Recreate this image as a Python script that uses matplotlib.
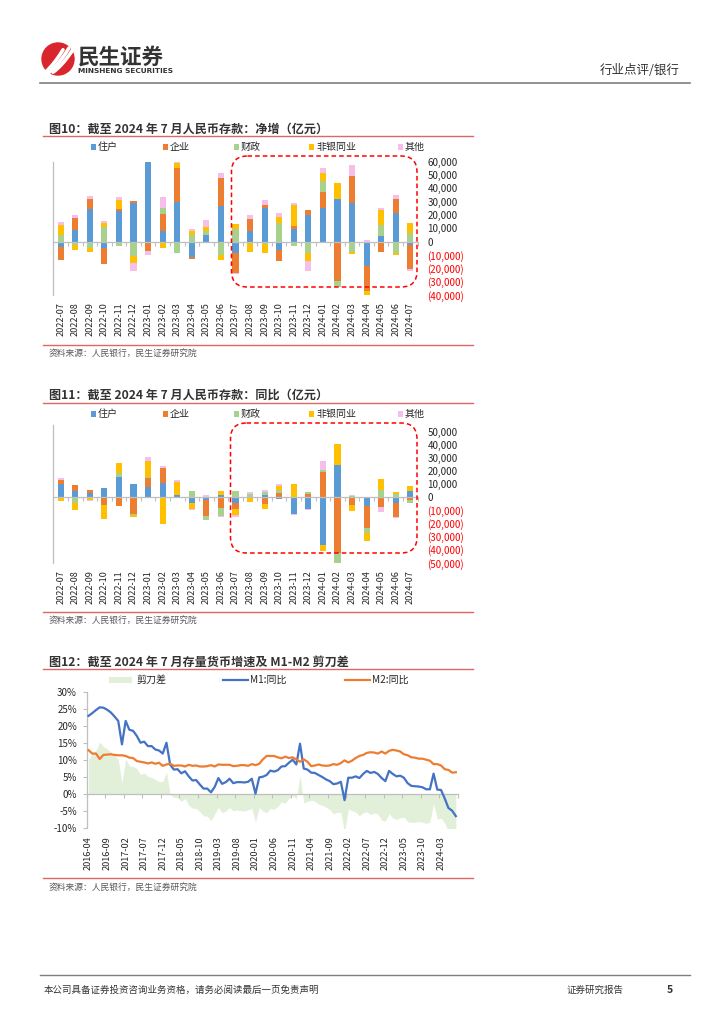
import numpy as np
import pandas as pd
import matplotlib
matplotlib.use('Agg')
import matplotlib.pyplot as plt
from matplotlib.patches import FancyBboxPatch, Rectangle, Circle

plt.rcParams['font.family'] = ['Noto Sans CJK SC', 'DejaVu Sans']
plt.rcParams['axes.unicode_minus'] = False

# ---------------- data ----------------
months = ['2022-07', '2022-08', '2022-09', '2022-10', '2022-11', '2022-12',
          '2023-01', '2023-02', '2023-03', '2023-04', '2023-05', '2023-06',
          '2023-07', '2023-08', '2023-09', '2023-10', '2023-11', '2023-12',
          '2024-01', '2024-02', '2024-03', '2024-04', '2024-05', '2024-06',
          '2024-07']
series_names = ['住户', '企业', '财政', '非银同业', '其他']
series_colors = ['#5B9BD5', '#ED7D31', '#A9D18E', '#FFC000', '#F6BEEA']

# 图10 净增（亿元）
net_household = [-3750, 8500, 24250, -5000, 23000, 29250, 60250, 8000, 29500, -11500, 5250, 26750,
                 -8250, 8000, 25500, -6250, 9250, 20000, 25500, 32250, 28750, -18500, 4500, 21750, -2750]
net_corporate = [-10000, 9500, 7500, -11750, 1250, 1000, -7250, 13000, 26000, -1500, -1250, 20750,
                 -15000, 8750, 1750, -8500, 2250, 3500, 11500, -29750, 20500, -18500, -7750, 10000, -18000]
net_fiscal = [5000, -2500, -5000, 11250, -3500, -11000, 0, 4250, -8250, 5000, 2500, -10250,
              9250, -500, -2000, 13750, -3000, -8750, 8500, -4000, -7750, 0, 7750, -8250, 6500]
net_nonbank = [7500, -4000, -2500, 2500, 7000, -5000, 0, -4750, 3250, 3000, 3250, -3500,
               4000, -7000, -6250, 5000, 16000, -5500, 5750, 11750, -1250, -3250, 11250, -1500, 7500]
net_other = [2000, 1750, 2500, 1500, 2000, -6250, -2750, 8250, 1500, 1250, 5250, 3750,
             -750, 3500, 4000, 3000, 1250, -7500, 4000, 0, 8500, 1500, 1500, 3000, -1000]

# 图11 同比（亿元）
yoy_household = [10350, 4800, 3300, 7000, 15200, 10100, 7800, 10600, 1800, -4500, -1800, 1800,
                 -4300, 0, 1500, -1000, -12600, -8600, -36100, 24200, 0, -6300, 0, -4500, 4800]
yoy_corporate = [2500, 4300, 2500, -5800, -7000, -12600, 7000, 11900, 0, 0, -12100, -8000,
                 -4800, -800, -5300, 3500, 0, 2800, 19000, -42700, -5800, -16700, -7100, -10600, -1800]
yoy_fiscal = [-500, -4000, 0, 0, 3300, -800, 500, 0, 0, 4800, -3300, -6500,
              5000, 2500, 2500, 2300, 0, 1500, 1500, -7300, 1300, -4000, 5800, 2500, -2800]
yoy_nonbank = [-2000, -5500, -2000, -10400, 7600, -1500, 12600, -20000, 9800, -4500, 0, 2800,
               -4000, -2500, -3500, 3000, 10400, 0, -4500, 16700, -4300, -6600, 8100, 1800, 3800]
yoy_other = [1500, 0, -500, 0, 0, 0, 3000, 1000, 1300, -1000, 1500, -800,
             -2000, 1500, 1800, 1000, -800, -1300, 7100, 0, 800, 0, -4000, -800, 0]

# 图12 M1 / M2 同比（%），2016-04 ~ 2024-07
money_months = list(pd.period_range('2016-04', '2024-07', freq='M').strftime('%Y-%m'))
m1_yoy = [22.9, 23.7, 24.6, 25.4, 25.3, 24.7, 23.9, 22.7, 21.4,
          14.5, 21.4, 18.8, 18.5, 17.0, 15.0, 15.3, 14.0, 14.0, 13.0, 12.7, 11.8,
          15.0, 8.5, 7.1, 7.2, 6.0, 6.6, 5.1, 3.9, 4.0, 2.7, 1.5, 1.5,
          0.4, 2.0, 4.6, 2.9, 3.4, 4.4, 3.1, 3.4, 3.4, 3.3, 3.5, 4.4,
          0.0, 4.8, 5.0, 5.5, 6.8, 6.5, 6.9, 8.0, 8.1, 9.1, 10.0, 8.6,
          14.7, 7.4, 7.1, 6.2, 6.1, 5.5, 4.9, 4.2, 3.7, 2.8, 3.0, 3.5,
          -1.9, 4.7, 4.7, 5.1, 4.6, 5.8, 6.7, 6.1, 6.4, 5.8, 4.6, 3.7,
          6.7, 5.8, 5.1, 5.3, 4.7, 3.1, 2.3, 2.2, 2.1, 1.9, 1.3, 1.3,
          5.9, 1.2, 1.1, -1.4, -4.2, -5.0, -6.6]
m2_yoy = [12.8, 11.8, 11.8, 10.2, 11.4, 11.5, 11.6, 11.4, 11.3,
          11.3, 11.1, 10.6, 10.5, 9.6, 9.4, 9.2, 8.9, 9.2, 8.8, 9.1, 8.2,
          8.6, 8.8, 8.2, 8.3, 8.3, 8.0, 8.5, 8.2, 8.3, 8.0, 8.0, 8.1,
          8.4, 8.0, 8.6, 8.5, 8.5, 8.5, 8.1, 8.2, 8.4, 8.4, 8.2, 8.7,
          8.4, 8.8, 10.1, 11.1, 11.1, 11.1, 10.7, 10.4, 10.9, 10.5, 10.7, 10.1,
          9.4, 10.1, 9.4, 8.1, 8.3, 8.6, 8.3, 8.2, 8.3, 8.7, 8.5, 9.0,
          9.8, 9.2, 9.7, 10.5, 11.1, 11.4, 12.0, 12.2, 12.1, 11.8, 12.4, 11.8,
          12.6, 12.9, 12.7, 12.4, 11.6, 11.3, 10.7, 10.6, 10.3, 10.3, 10.0, 9.7,
          8.7, 8.7, 8.3, 7.2, 7.0, 6.2, 6.3]
scissors = list(np.array(m1_yoy) - np.array(m2_yoy))

# ---------------- figure ----------------
W, H = 724, 1024
fig = plt.figure(figsize=(W / 100, H / 100), dpi=100)
fig.patch.set_facecolor('white')

def ax_px(l, t, r, b, **kw):
    return fig.add_axes([l / W, 1 - b / H, (r - l) / W, (b - t) / H], **kw)

RED = '#E06666'
AXC = '#BFBFBF'
TXT = '#262626'

def stacked_chart(ax, series, ylim, yticks):
    x = np.arange(len(months))
    pos = np.zeros(len(x))
    neg = np.zeros(len(x))
    for vals, col in zip(series, series_colors):
        v = np.array(vals, dtype=float)
        bottom = np.where(v >= 0, pos, neg)
        ax.bar(x, v, bottom=bottom, width=0.42, color=col, linewidth=0, zorder=3)
        pos += np.where(v > 0, v, 0)
        neg += np.where(v < 0, v, 0)
    ax.set_xlim(-0.5, len(x) - 0.5)
    ax.set_ylim(*ylim)
    for s in ['top', 'right']:
        ax.spines[s].set_visible(False)
    ax.spines['left'].set_color(AXC)
    ax.spines['left'].set_linewidth(0.9)
    ax.spines['bottom'].set_position(('data', 0))
    ax.spines['bottom'].set_color(AXC)
    ax.spines['bottom'].set_linewidth(0.9)
    ax.spines['bottom'].set_zorder(4)
    ax.set_xticks(np.arange(-0.5, len(x), 1.0))
    ax.set_xticklabels([])
    ax.tick_params(axis='x', length=3, color=AXC, width=0.8, direction='out')
    for i, lab in enumerate(months):
        ax.annotate(lab, xy=(i, 0), xycoords=('data', 'axes fraction'),
                    xytext=(0, -5), textcoords='offset points', rotation=90,
                    ha='center', va='top', fontsize=6.6, color=TXT)
    ax.yaxis.tick_right()
    ax.set_yticks(yticks)
    labels = ['({:,})'.format(-t) if t < 0 else '{:,}'.format(t) for t in yticks]
    ax.set_yticklabels(labels)
    ax.tick_params(axis='y', length=0, pad=7, labelsize=7)
    for lbl, t in zip(ax.get_yticklabels(), yticks):
        lbl.set_color('#FF0000' if t < 0 else TXT)
        lbl.set_ha('left')
    ax.patch.set_alpha(0)

# chart 1
ax1 = ax_px(53.4, 161.7, 417.6, 295.0)
stacked_chart(ax1, [net_household, net_corporate, net_fiscal, net_nonbank, net_other],
              (-40000, 60000), list(range(-40000, 60001, 10000)))

# chart 2
ax2 = ax_px(53.4, 425.0, 417.6, 563.0)
stacked_chart(ax2, [yoy_household, yoy_corporate, yoy_fiscal, yoy_nonbank, yoy_other],
              (-50000, 55000), list(range(-50000, 50001, 10000)))

# chart 3
ax3 = ax_px(86.7, 691.7, 457.7, 827.7)
xm = np.arange(len(money_months))
ax3.fill_between(xm, 0, scissors, color='#E2F0D9', linewidth=0, zorder=1)
ax3.plot(xm, m1_yoy, color='#4472C4', lw=1.6, zorder=3)
ax3.plot(xm, m2_yoy, color='#ED7D31', lw=1.6, zorder=3)
ax3.set_xlim(-0.5, len(xm) - 0.5)
ax3.set_ylim(-10, 30)
for s in ['top', 'right']:
    ax3.spines[s].set_visible(False)
ax3.spines['left'].set_color(AXC)
ax3.spines['left'].set_linewidth(0.9)
ax3.spines['bottom'].set_position(('data', 0))
ax3.spines['bottom'].set_color(AXC)
ax3.spines['bottom'].set_linewidth(0.9)
tick_pos = list(np.arange(0, len(xm), 5) - 0.5) + [len(xm) - 0.5]
ax3.set_xticks(tick_pos)
ax3.set_xticklabels([])
ax3.tick_params(axis='x', length=3, color=AXC, width=0.8, direction='out')
for i in range(0, len(xm), 5):
    ax3.annotate(money_months[i], xy=(i, 0), xycoords=('data', 'axes fraction'),
                 xytext=(0, -6), textcoords='offset points', rotation=90,
                 ha='center', va='top', fontsize=6.6, color=TXT)
yt3 = list(range(-10, 31, 5))
ax3.set_yticks(yt3)
ax3.set_yticklabels(['{}%'.format(t) for t in yt3])
ax3.tick_params(axis='y', length=3, color=AXC, width=0.8, pad=4, labelsize=7, labelcolor=TXT)
ax3.patch.set_alpha(0)

# ---------------- overlay (page elements) ----------------
bg = fig.add_axes([0, 0, 1, 1], zorder=10)
bg.set_xlim(0, W)
bg.set_ylim(H, 0)
bg.axis('off')
bg.patch.set_alpha(0)

# header logo
bg.add_patch(Circle((58, 59), 16, color='#D9262C', zorder=2))
for k, (dx, lw) in enumerate([(-6, 2.6), (0, 2.6), (6, 2.6)]):
    t = np.linspace(0, 1, 30)
    xs = 47 + dx + 22 * t
    ys = 74 - 26 * t + 10 * t * (1 - t) - dx * 0.3
    bg.plot(xs, ys, color='white', lw=lw, solid_capstyle='round', zorder=3)
bg.text(78, 57, '民生证券', fontsize=15.5, fontweight='bold', color='#333333',
        ha='left', va='center', family=['Noto Sans CJK SC', 'DejaVu Sans'])
bg.text(78, 71, 'MINSHENG SECURITIES', fontsize=5.3, fontweight='bold', color='#333333',
        ha='left', va='center', family=['DejaVu Sans'])
bg.text(680, 70, '行业点评/银行', fontsize=9, color='#333333', ha='right', va='center')
bg.plot([40, 690], [83, 83], color='#7F7F7F', lw=1.2)

# footer
bg.plot([40, 690], [975, 975], color='#7F7F7F', lw=1.0)
bg.text(44, 990, '本公司具备证券投资咨询业务资格，请务必阅读最后一页免责声明', fontsize=6.8,
        color='#333333', ha='left', va='center')
bg.text(567, 990, '证券研究报告', fontsize=6.8, color='#333333', ha='left', va='center')
bg.text(670, 990, '5', fontsize=7.5, color='#333333', ha='center', va='center', fontweight='bold')

def block(title, y_title, y_line_top, y_line_bot, y_source):
    bg.text(49, y_title, title, fontsize=8.7, fontweight='bold', color='#333333',
            ha='left', va='center')
    bg.plot([43, 473], [y_line_top, y_line_top], color=RED, lw=1.0)
    bg.plot([43, 473], [y_line_bot, y_line_bot], color=RED, lw=1.0)
    bg.text(49, y_source, '资料来源：人民银行，民生证券研究院', fontsize=6.3,
            color='#595959', ha='left', va='center')

block('图10：截至 2024 年 7 月人民币存款：净增（亿元）', 129, 135.7, 345, 353.5)
block('图11：截至 2024 年 7 月人民币存款：同比（亿元）', 395, 402.7, 611.7, 620)
block('图12：截至 2024 年 7 月存量货币增速及 M1-M2 剪刀差', 662.7, 669.3, 878, 887)

# legends for bar charts
leg_x = [93, 165, 236, 311, 400]
for y_leg in (147.3, 414.3):
    for xx, name, col in zip(leg_x, series_names, series_colors):
        bg.add_patch(Rectangle((xx - 2.5, y_leg - 3), 5.5, 5.5, color=col, lw=0))
        bg.text(xx + 5, y_leg, name, fontsize=7.2, color=TXT, ha='left', va='center')

# legend for chart 3
yl = 680.3
bg.add_patch(Rectangle((109, yl - 3), 23, 6, color='#E2F0D9', lw=0))
bg.text(136, yl, '剪刀差', fontsize=7.2, color=TXT, ha='left', va='center')
bg.plot([223, 248], [yl, yl], color='#4472C4', lw=1.6)
bg.text(250, yl, 'M1:同比', fontsize=7.2, color=TXT, ha='left', va='center')
bg.plot([345, 370], [yl, yl], color='#ED7D31', lw=1.6)
bg.text(372, yl, 'M2:同比', fontsize=7.2, color=TXT, ha='left', va='center')

# red dashed highlight boxes
for (x0, y0, x1, y1) in [(231.5, 156, 417, 287), (230.5, 423, 417, 553)]:
    bg.add_patch(FancyBboxPatch((x0, y0), x1 - x0, y1 - y0,
                                boxstyle='round,pad=0,rounding_size=16',
                                fc='none', ec='#FF0000', lw=1.1, ls=(0, (3, 2))))

fig.savefig('out.png', dpi=100, facecolor='white')
